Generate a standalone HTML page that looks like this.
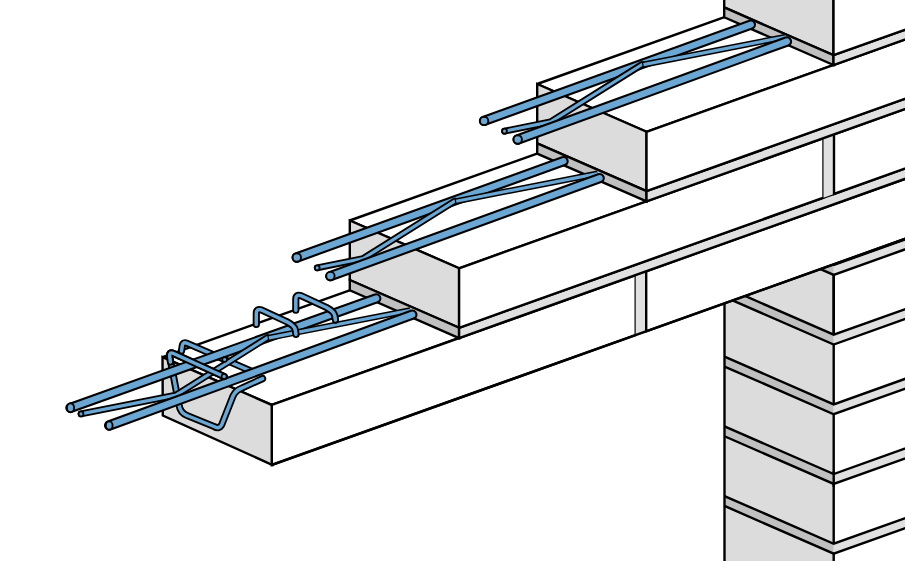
<!DOCTYPE html>
<html><head><meta charset="utf-8"><style>
html,body{margin:0;padding:0;background:#fff;}
svg{display:block;}
</style></head><body>
<svg width="905" height="561" viewBox="0 0 905 561">
<rect width="905" height="561" fill="#fff"/>
<polygon points="724.50,156.53 833.70,204.25 833.70,764.85 724.50,717.13" fill="#dcdcdc"/>
<polygon points="833.70,204.25 1346.40,21.22 1346.40,581.82 833.70,764.85" fill="#ffffff"/>
<polygon points="724.50,217.23 833.70,264.95 833.70,274.85 724.50,227.13" fill="#c0c0c0"/>
<polygon points="833.70,264.95 1346.40,81.92 1346.40,91.82 833.70,274.85" fill="#e0e0e0"/>
<polyline points="724.50,217.23 833.70,264.95 1346.40,81.92" fill="none" stroke="#000" stroke-width="2.4" stroke-linejoin="miter" stroke-miterlimit="2"/>
<polyline points="724.50,227.13 833.70,274.85 1346.40,91.82" fill="none" stroke="#000" stroke-width="2.4" stroke-linejoin="miter" stroke-miterlimit="2"/>
<polyline points="833.70,274.85 833.70,334.65" fill="none" stroke="#000" stroke-width="2.4" stroke-linejoin="miter" stroke-miterlimit="2"/>
<polygon points="724.50,286.93 833.70,334.65 833.70,344.55 724.50,296.83" fill="#c0c0c0"/>
<polygon points="833.70,334.65 1346.40,151.62 1346.40,161.52 833.70,344.55" fill="#e0e0e0"/>
<polyline points="724.50,286.93 833.70,334.65 1346.40,151.62" fill="none" stroke="#000" stroke-width="2.4" stroke-linejoin="miter" stroke-miterlimit="2"/>
<polyline points="724.50,296.83 833.70,344.55 1346.40,161.52" fill="none" stroke="#000" stroke-width="2.4" stroke-linejoin="miter" stroke-miterlimit="2"/>
<polyline points="833.70,344.55 833.70,404.35" fill="none" stroke="#000" stroke-width="2.4" stroke-linejoin="miter" stroke-miterlimit="2"/>
<polygon points="724.50,356.63 833.70,404.35 833.70,414.25 724.50,366.53" fill="#c0c0c0"/>
<polygon points="833.70,404.35 1346.40,221.32 1346.40,231.22 833.70,414.25" fill="#e0e0e0"/>
<polyline points="724.50,356.63 833.70,404.35 1346.40,221.32" fill="none" stroke="#000" stroke-width="2.4" stroke-linejoin="miter" stroke-miterlimit="2"/>
<polyline points="724.50,366.53 833.70,414.25 1346.40,231.22" fill="none" stroke="#000" stroke-width="2.4" stroke-linejoin="miter" stroke-miterlimit="2"/>
<polyline points="833.70,414.25 833.70,474.05" fill="none" stroke="#000" stroke-width="2.4" stroke-linejoin="miter" stroke-miterlimit="2"/>
<polygon points="724.50,426.33 833.70,474.05 833.70,483.95 724.50,436.23" fill="#c0c0c0"/>
<polygon points="833.70,474.05 1346.40,291.02 1346.40,300.92 833.70,483.95" fill="#e0e0e0"/>
<polyline points="724.50,426.33 833.70,474.05 1346.40,291.02" fill="none" stroke="#000" stroke-width="2.4" stroke-linejoin="miter" stroke-miterlimit="2"/>
<polyline points="724.50,436.23 833.70,483.95 1346.40,300.92" fill="none" stroke="#000" stroke-width="2.4" stroke-linejoin="miter" stroke-miterlimit="2"/>
<polyline points="833.70,483.95 833.70,543.75" fill="none" stroke="#000" stroke-width="2.4" stroke-linejoin="miter" stroke-miterlimit="2"/>
<polyline points="833.70,471.05 833.70,486.95" fill="none" stroke="#000" stroke-width="2.4" stroke-linejoin="miter" stroke-miterlimit="2"/>
<polygon points="724.50,496.03 833.70,543.75 833.70,553.65 724.50,505.93" fill="#c0c0c0"/>
<polygon points="833.70,543.75 1346.40,360.72 1346.40,370.62 833.70,553.65" fill="#e0e0e0"/>
<polyline points="724.50,496.03 833.70,543.75 1346.40,360.72" fill="none" stroke="#000" stroke-width="2.4" stroke-linejoin="miter" stroke-miterlimit="2"/>
<polyline points="724.50,505.93 833.70,553.65 1346.40,370.62" fill="none" stroke="#000" stroke-width="2.4" stroke-linejoin="miter" stroke-miterlimit="2"/>
<polyline points="833.70,553.65 833.70,613.45" fill="none" stroke="#000" stroke-width="2.4" stroke-linejoin="miter" stroke-miterlimit="2"/>
<polyline points="833.70,274.85 833.70,334.65" fill="none" stroke="#000" stroke-width="2.4" stroke-linejoin="miter" stroke-miterlimit="2"/>
<polyline points="724.50,167.13 724.50,817.13" fill="none" stroke="#000" stroke-width="2.4" stroke-linejoin="miter" stroke-miterlimit="2"/>
<polygon points="162.50,357.17 1237.20,-26.50 1346.50,21.26 271.80,404.93" fill="#ffffff" stroke="#000" stroke-width="2.4" stroke-linejoin="miter" stroke-miterlimit="2"/>
<polygon points="162.50,357.20 272.10,405.10 272.10,464.80 162.80,415.50" fill="#dcdcdc" stroke="#000" stroke-width="2.4" stroke-linejoin="miter" stroke-miterlimit="2"/>
<polygon points="271.80,404.93 635.70,275.02 635.70,335.02 271.80,464.93" fill="#ffffff" stroke="#000" stroke-width="2.4" stroke-linejoin="miter" stroke-miterlimit="2"/>
<polygon points="635.70,275.02 646.20,271.27 646.20,331.27 635.70,335.02" fill="#e0e0e0"/>
<polygon points="646.20,271.27 1346.50,21.26 1346.50,81.26 646.20,331.27" fill="#ffffff" stroke="#000" stroke-width="2.4" stroke-linejoin="miter" stroke-miterlimit="2"/>
<polyline points="271.80,464.93 1346.50,81.26" fill="none" stroke="#000" stroke-width="2.4" stroke-linejoin="miter" stroke-miterlimit="2"/>
<polygon points="349.80,220.50 1237.20,-96.30 1346.50,-48.54 459.10,268.27" fill="#ffffff" stroke="#000" stroke-width="2.4" stroke-linejoin="miter" stroke-miterlimit="2"/>
<polygon points="349.80,220.50 459.10,268.27 459.10,327.77 349.80,280.00" fill="#dcdcdc" stroke="#000" stroke-width="2.4" stroke-linejoin="miter" stroke-miterlimit="2"/>
<polygon points="349.80,280.00 459.10,327.77 459.10,338.07 349.80,290.30" fill="#c0c0c0" stroke="#000" stroke-width="2.4" stroke-linejoin="miter" stroke-miterlimit="2"/>
<polygon points="459.10,327.77 1346.50,10.96 1346.50,21.26 459.10,338.07" fill="#e0e0e0" stroke="#000" stroke-width="2.4" stroke-linejoin="miter" stroke-miterlimit="2"/>
<polygon points="459.10,268.27 823.50,138.18 823.50,197.68 459.10,327.77" fill="#ffffff" stroke="#000" stroke-width="2.4" stroke-linejoin="miter" stroke-miterlimit="2"/>
<polygon points="823.50,138.18 834.00,134.43 834.00,193.93 823.50,197.68" fill="#e0e0e0"/>
<polygon points="834.00,134.43 1346.50,-48.54 1346.50,10.96 834.00,193.93" fill="#ffffff" stroke="#000" stroke-width="2.4" stroke-linejoin="miter" stroke-miterlimit="2"/>
<polygon points="537.20,84.00 1237.20,-165.90 1346.50,-118.14 646.50,131.76" fill="#ffffff" stroke="#000" stroke-width="2.4" stroke-linejoin="miter" stroke-miterlimit="2"/>
<polygon points="537.20,84.00 646.50,131.76 646.50,191.06 537.20,143.30" fill="#dcdcdc" stroke="#000" stroke-width="2.4" stroke-linejoin="miter" stroke-miterlimit="2"/>
<polygon points="537.20,143.30 646.50,191.06 646.50,201.36 537.20,153.60" fill="#c0c0c0" stroke="#000" stroke-width="2.4" stroke-linejoin="miter" stroke-miterlimit="2"/>
<polygon points="646.50,191.06 1346.50,-58.84 1346.50,-48.54 646.50,201.36" fill="#e0e0e0" stroke="#000" stroke-width="2.4" stroke-linejoin="miter" stroke-miterlimit="2"/>
<polygon points="646.50,131.76 1346.50,-118.14 1346.50,-58.84 646.50,191.06" fill="#ffffff" stroke="#000" stroke-width="2.4" stroke-linejoin="miter" stroke-miterlimit="2"/>
<polygon points="724.20,7.44 833.50,55.21 833.50,-234.99 724.20,-282.76" fill="#dcdcdc" stroke="#000" stroke-width="2.4" stroke-linejoin="miter" stroke-miterlimit="2"/>
<polygon points="724.20,17.24 833.50,65.01 833.50,55.21 724.20,7.44" fill="#c0c0c0" stroke="#000" stroke-width="2.4" stroke-linejoin="miter" stroke-miterlimit="2"/>
<polygon points="833.50,65.01 1346.50,-118.14 1346.50,-127.94 833.50,55.21" fill="#e0e0e0" stroke="#000" stroke-width="2.4" stroke-linejoin="miter" stroke-miterlimit="2"/>
<polygon points="833.50,55.21 1346.50,-127.94 1346.50,-418.14 833.50,-234.99" fill="#ffffff" stroke="#000" stroke-width="2.4" stroke-linejoin="miter" stroke-miterlimit="2"/>
<line x1="484.10" y1="120.90" x2="750.80" y2="24.60" stroke="#000" stroke-width="10.40" stroke-linecap="round"/>
<line x1="484.10" y1="120.90" x2="750.80" y2="24.60" stroke="#6ca6d2" stroke-width="6.20" stroke-linecap="round"/>
<ellipse cx="484.10" cy="120.90" rx="4.2" ry="4.2" fill="#6ca6d2" stroke="#000" stroke-width="1.9"/>
<path d="M504.50,131.20 L550.50,121.90 L642.00,64.50" fill="none" stroke="#000" stroke-width="6.80" stroke-linecap="round" stroke-linejoin="round"/>
<path d="M504.50,131.20 L550.50,121.90 L642.00,64.50" fill="none" stroke="#6ca6d2" stroke-width="3.20" stroke-linecap="round" stroke-linejoin="round"/>
<line x1="642.29" y1="64.84" x2="785.00" y2="37.00" stroke="#000" stroke-width="6.20" stroke-linecap="butt"/>
<line x1="643.47" y1="64.62" x2="785.00" y2="37.00" stroke="#6ca6d2" stroke-width="3.20" stroke-linecap="butt"/>
<ellipse cx="504.50" cy="131.20" rx="2.4" ry="2.5" fill="#6ca6d2" stroke="#000" stroke-width="1.8"/>
<line x1="517.70" y1="139.50" x2="786.90" y2="41.50" stroke="#000" stroke-width="10.40" stroke-linecap="round"/>
<line x1="517.70" y1="139.50" x2="786.90" y2="41.50" stroke="#6ca6d2" stroke-width="6.20" stroke-linecap="round"/>
<ellipse cx="517.70" cy="139.50" rx="4.2" ry="4.2" fill="#6ca6d2" stroke="#000" stroke-width="1.9"/>
<line x1="296.80" y1="257.50" x2="563.50" y2="161.20" stroke="#000" stroke-width="10.40" stroke-linecap="round"/>
<line x1="296.80" y1="257.50" x2="563.50" y2="161.20" stroke="#6ca6d2" stroke-width="6.20" stroke-linecap="round"/>
<ellipse cx="296.80" cy="257.50" rx="4.2" ry="4.2" fill="#6ca6d2" stroke="#000" stroke-width="1.9"/>
<path d="M317.20,267.80 L363.20,258.50 L454.70,201.10" fill="none" stroke="#000" stroke-width="6.80" stroke-linecap="round" stroke-linejoin="round"/>
<path d="M317.20,267.80 L363.20,258.50 L454.70,201.10" fill="none" stroke="#6ca6d2" stroke-width="3.20" stroke-linecap="round" stroke-linejoin="round"/>
<line x1="454.99" y1="201.44" x2="597.70" y2="173.60" stroke="#000" stroke-width="6.20" stroke-linecap="butt"/>
<line x1="456.17" y1="201.22" x2="597.70" y2="173.60" stroke="#6ca6d2" stroke-width="3.20" stroke-linecap="butt"/>
<ellipse cx="317.20" cy="267.80" rx="2.4" ry="2.5" fill="#6ca6d2" stroke="#000" stroke-width="1.8"/>
<line x1="330.40" y1="276.10" x2="599.60" y2="178.10" stroke="#000" stroke-width="10.40" stroke-linecap="round"/>
<line x1="330.40" y1="276.10" x2="599.60" y2="178.10" stroke="#6ca6d2" stroke-width="6.20" stroke-linecap="round"/>
<ellipse cx="330.40" cy="276.10" rx="4.2" ry="4.2" fill="#6ca6d2" stroke="#000" stroke-width="1.9"/>
<path d="M250.5,370.8 L187.5,343.5 Q183,341.5 182.3,345.5 L181.5,351" fill="none" stroke="#000" stroke-width="7.2" stroke-linecap="round" stroke-linejoin="round"/>
<path d="M250.5,370.8 L187.5,343.5 Q183,341.5 182.3,345.5 L181.5,351" fill="none" stroke="#6ca6d2" stroke-width="3.5" stroke-linecap="round" stroke-linejoin="round"/>
<path d="M224.1,376.5 L173.5,353.5 Q169.5,351.5 169.6,356 L179,405 Q180.3,413 187,415.5 L214,426.5 Q219.5,429.5 221.8,424.5 L233,396 Q235.5,390.5 242,388 L262.6,378.6" fill="none" stroke="#000" stroke-width="7.2" stroke-linecap="round" stroke-linejoin="round"/>
<path d="M224.1,376.5 L173.5,353.5 Q169.5,351.5 169.6,356 L179,405 Q180.3,413 187,415.5 L214,426.5 Q219.5,429.5 221.8,424.5 L233,396 Q235.5,390.5 242,388 L262.6,378.6" fill="none" stroke="#6ca6d2" stroke-width="3.5" stroke-linecap="round" stroke-linejoin="round"/>
<line x1="70.50" y1="407.80" x2="376.20" y2="298.40" stroke="#000" stroke-width="10.40" stroke-linecap="round"/>
<line x1="70.50" y1="407.80" x2="376.20" y2="298.40" stroke="#6ca6d2" stroke-width="6.20" stroke-linecap="round"/>
<ellipse cx="70.50" cy="407.80" rx="3.6" ry="4.5" fill="#6ca6d2" stroke="#000" stroke-width="1.9"/>
<path d="M81.00,413.90 L175.90,395.10 L267.40,337.70" fill="none" stroke="#000" stroke-width="6.80" stroke-linecap="round" stroke-linejoin="round"/>
<path d="M81.00,413.90 L175.90,395.10 L267.40,337.70" fill="none" stroke="#6ca6d2" stroke-width="3.20" stroke-linecap="round" stroke-linejoin="round"/>
<line x1="267.69" y1="338.04" x2="410.40" y2="310.20" stroke="#000" stroke-width="6.20" stroke-linecap="butt"/>
<line x1="268.87" y1="337.82" x2="410.40" y2="310.20" stroke="#6ca6d2" stroke-width="3.20" stroke-linecap="butt"/>
<ellipse cx="81.00" cy="413.90" rx="2.4" ry="2.5" fill="#6ca6d2" stroke="#000" stroke-width="1.8"/>
<circle cx="224.6" cy="359.4" r="2.3" fill="#6ca6d2" stroke="#000" stroke-width="1.6"/>
<path d="M256.3,324.5 L256.3,313.5 Q256.3,308.4 261.5,310 L287,321.8 Q294,325.5 295.2,329.5 L296,334.4" fill="none" stroke="#000" stroke-width="7.2" stroke-linecap="round" stroke-linejoin="round"/>
<path d="M256.3,324.5 L256.3,313.5 Q256.3,308.4 261.5,310 L287,321.8 Q294,325.5 295.2,329.5 L296,334.4" fill="none" stroke="#6ca6d2" stroke-width="3.5" stroke-linecap="round" stroke-linejoin="round"/>
<path d="M295.80,310.20 L295.80,299.20 Q295.80,294.10 301.00,295.70 L326.50,307.50 Q333.50,311.20 334.70,315.20 L335.50,320.10" fill="none" stroke="#000" stroke-width="7.2" stroke-linecap="round" stroke-linejoin="round"/>
<path d="M295.80,310.20 L295.80,299.20 Q295.80,294.10 301.00,295.70 L326.50,307.50 Q333.50,311.20 334.70,315.20 L335.50,320.10" fill="none" stroke="#6ca6d2" stroke-width="3.5" stroke-linecap="round" stroke-linejoin="round"/>
<line x1="109.20" y1="425.50" x2="412.30" y2="314.70" stroke="#000" stroke-width="10.40" stroke-linecap="round"/>
<line x1="109.20" y1="425.50" x2="412.30" y2="314.70" stroke="#6ca6d2" stroke-width="6.20" stroke-linecap="round"/>
<ellipse cx="109.20" cy="425.50" rx="3.4" ry="4.2" fill="#6ca6d2" stroke="#000" stroke-width="1.9"/>
<path d="M224.1,376.5 L173.5,353.5 Q169.5,351.5 169.6,356 L170.5,362" fill="none" stroke="#000" stroke-width="7.2" stroke-linecap="round" stroke-linejoin="round"/>
<path d="M224.1,376.5 L173.5,353.5 Q169.5,351.5 169.6,356 L170.5,362" fill="none" stroke="#6ca6d2" stroke-width="3.5" stroke-linecap="round" stroke-linejoin="round"/>
<circle cx="224.1" cy="376.5" r="2.5" fill="#6ca6d2" stroke="#000" stroke-width="1.6"/>
</svg></body></html>
